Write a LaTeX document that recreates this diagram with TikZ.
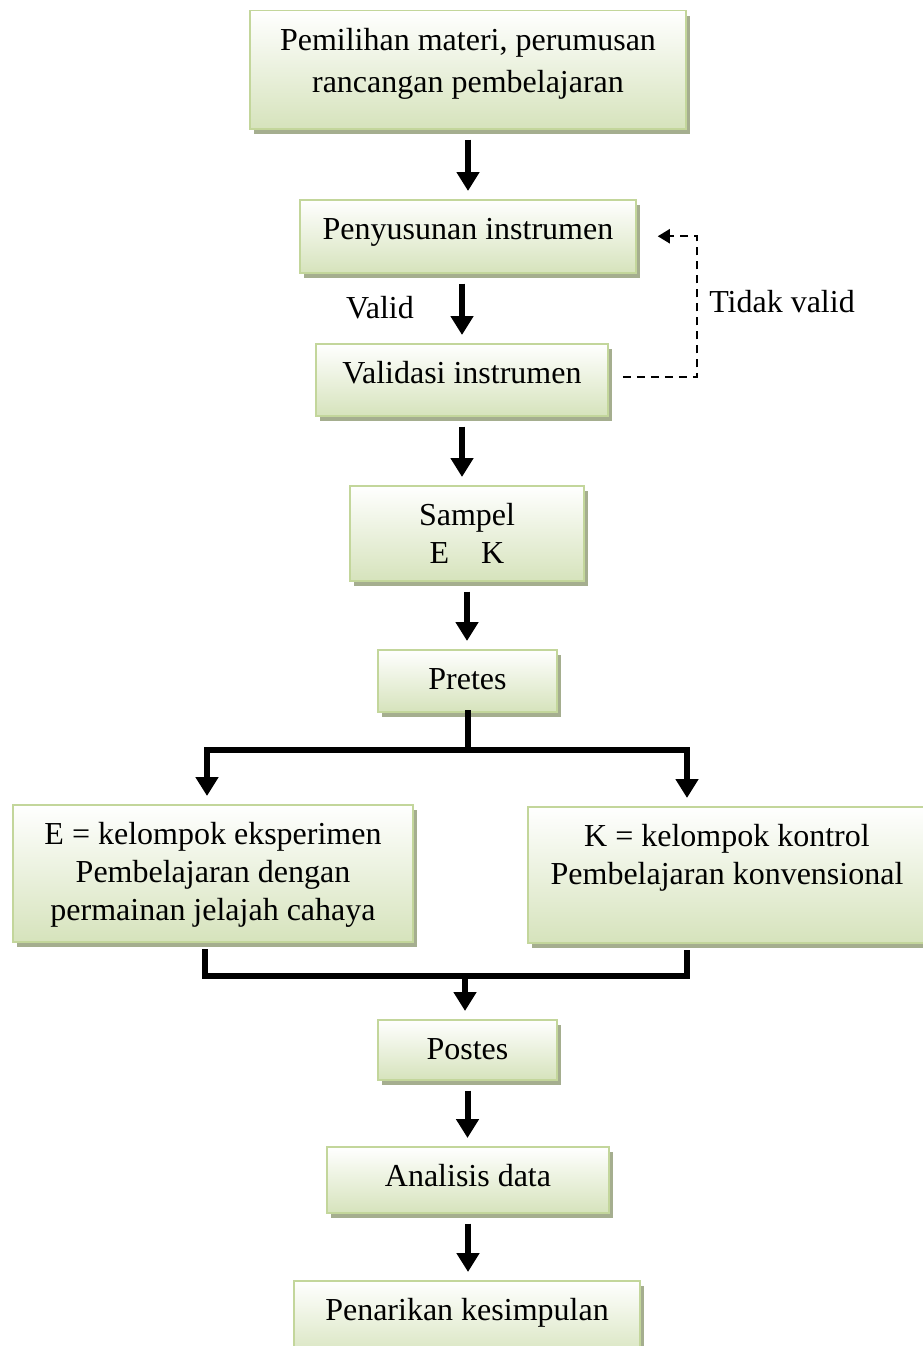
\documentclass[tikz,border=0pt]{standalone}
\usepackage{fontspec}
\setmainfont{Liberation Serif}
\usetikzlibrary{arrows.meta,shadows}
\definecolor{tepi}{HTML}{C3D69B}
\definecolor{hijau}{HTML}{D6E3BC}
\definecolor{bayang}{HTML}{A5AE8F}

\begin{document}
\begin{tikzpicture}[x=1pt,y=-1pt,
    kotak/.style={draw=tepi,line width=1.5pt,top color=white,bottom color=hijau,
      drop shadow={shadow xshift=4pt,shadow yshift=-5pt,fill=bayang,opacity=1},
      anchor=north,inner sep=0pt,text height=40pt,align=flush center,
      font=\fontsize{32pt}{38pt}\selectfont},
    panah/.style={line width=6pt,-{Triangle[width=22pt,length=19pt]},shorten <=10pt,shorten >=8pt},
    garis/.style={line width=6pt,line cap=rect,line join=miter},
    putus/.style={line width=2pt,dash pattern=on 8pt off 6pt,-{Triangle[width=14pt,length=12pt]}},
    ket/.style={font=\fontsize{32pt}{38pt}\selectfont}]
    \useasboundingbox (0,0) rectangle (923,1346);

    % kotak-kotak alur
    \node[kotak,text width=436pt,text depth=78pt] (pilih) at (468,10) {Pemilihan materi, perumusan\\[4pt]rancangan pembelajaran};
    \node[kotak,text width=336pt,text depth=33pt] (susun) at (468,199) {Penyusunan instrumen};
    \node[kotak,text width=292pt,text depth=32pt] (valid) at (462,343) {Validasi instrumen};
    \node[kotak,text width=234pt,text depth=55pt] (sampel) at (467,485) {Sampel\\E\hspace{1em}K};
    \node[kotak,text width=179pt,text depth=22pt] (pretes) at (467.5,649) {Pretes};
    \node[kotak,text width=400pt,text depth=97pt] (eksp) at (213,804) {E = kelompok eksperimen\\Pembelajaran dengan\\permainan jelajah cahaya};
    \node[kotak,text width=398pt,text depth=96pt] (kontrol) at (727,806) {K = kelompok kontrol\\Pembelajaran konvensional};
    \node[kotak,text width=179pt,text depth=20pt] (postes) at (467.5,1019) {Postes};
    \node[kotak,text width=282pt,text depth=26pt] (analisis) at (468,1146) {Analisis data};
    \node[kotak,text width=346pt,text depth=40pt] (tarik) at (467,1280) {Penarikan kesimpulan};

    \node[ket] (lblvalid) at (380,308) {Valid};
    \node[ket] (lbltidak) at (782,302) {Tidak valid};

    % titik cabang
    \coordinate (kiri) at (207,750);
    \coordinate (kanan) at (687,750);
    \coordinate (gabkiri) at (205,976);
    \coordinate (gabkanan) at (687,976);
    \coordinate (gabung) at (465,976);
    \coordinate (belok) at (697,377);

    \draw[panah] (pilih.south) -- (susun.north);
    \draw[panah] (valid.north |- susun.south) -- (valid.north);
    \draw[panah] (valid.south) -- (valid.south |- sampel.north);
    \draw[panah] (sampel.south) -- (sampel.south |- pretes.north);

    \draw[garis] (pretes.south) -- (pretes.south |- kiri);
    \draw[garis] (kiri) -- (kanan);
    \draw[panah,shorten <=0pt] (kiri) -- (kiri |- eksp.north);
    \draw[panah,shorten <=0pt] (kanan) -- (kanan |- kontrol.north);

    \draw[garis,shorten <=9pt,shorten >=9pt] (gabkiri |- eksp.south) -- (gabkiri) -- (gabkanan) -- (gabkanan |- kontrol.south);
    \draw[panah,shorten <=0pt] (gabung) -- (gabung |- postes.north);
    \draw[panah] (postes.south) -- (postes.south |- analisis.north);
    \draw[panah] (analisis.south) -- (analisis.south |- tarik.north);

    \draw[putus,shorten <=14pt,shorten >=21pt] (valid.east |- belok) -- (belok) |- (susun.east);
\end{tikzpicture}
\end{document}
